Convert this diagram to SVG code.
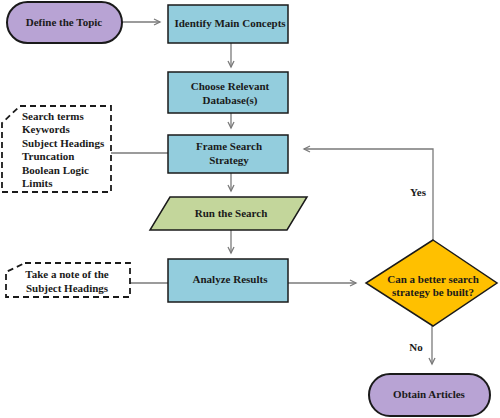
<svg xmlns="http://www.w3.org/2000/svg" width="500" height="418" viewBox="0 0 500 418">
<defs>
<marker id="arr" markerWidth="10" markerHeight="10" refX="8" refY="5" orient="auto" markerUnits="userSpaceOnUse">
<path d="M2,2 L8,5 L2,8" fill="none" stroke="#7a7a7a" stroke-width="1.3"/>
</marker>
</defs>
<style>
text{font-family:"Liberation Serif","Times New Roman",serif;font-weight:bold;font-size:11px;fill:#1a1a1a}
.c{text-anchor:middle}
.pill{fill:#b8a3d4;stroke:#1a1a1a;stroke-width:2}
.box{fill:#93cddd;stroke:#1a1a1a;stroke-width:1.5}
.para{fill:#c3d69b;stroke:#1a1a1a;stroke-width:1.5}
.dia{fill:#ffc000;stroke:#1a1a1a;stroke-width:1.5}
.note{fill:#fff;stroke:#1a1a1a;stroke-width:1.8;stroke-dasharray:6,4}
.ln{fill:none;stroke:#7a7a7a;stroke-width:1.3}
</style>
<rect width="500" height="418" fill="#fff"/>
<g id="connectors">
<line class="ln" x1="122" y1="22" x2="160" y2="22" marker-end="url(#arr)"/>
<line class="ln" x1="231" y1="43" x2="231" y2="67" marker-end="url(#arr)"/>
<line class="ln" x1="231" y1="113" x2="231" y2="128" marker-end="url(#arr)"/>
<line class="ln" x1="231" y1="173" x2="231" y2="191" marker-end="url(#arr)"/>
<line class="ln" x1="231" y1="230" x2="231" y2="253" marker-end="url(#arr)"/>
<line class="ln" x1="288" y1="283" x2="356" y2="283" marker-end="url(#arr)"/>
<polyline class="ln" points="433,240 433,149 304,149" marker-end="url(#arr)"/>
<line class="ln" x1="432" y1="326" x2="432" y2="364" marker-end="url(#arr)"/>
<line class="ln" x1="111" y1="153" x2="168" y2="153"/>
<line class="ln" x1="130" y1="283" x2="168" y2="283"/>
<text x="418" y="196" class="c">Yes</text>
<text x="416" y="351" class="c">No</text>
</g>
<g id="define">
<rect class="pill" x="7" y="2" width="115" height="41" rx="20.5"/>
<text x="64" y="26" class="c">Define the Topic</text>
</g>
<g id="identify">
<rect class="box" x="168" y="5" width="120" height="38"/>
<text x="230" y="27" class="c">Identify Main Concepts</text>
</g>
<g id="choose">
<rect class="box" x="168" y="72" width="120" height="41"/>
<text x="230" y="90" class="c">Choose Relevant</text>
<text x="230" y="104" class="c">Database(s)</text>
</g>
<g id="frame">
<rect class="box" x="168" y="135" width="120" height="38"/>
<text x="229" y="150" class="c">Frame Search</text>
<text x="229" y="164" class="c">Strategy</text>
</g>
<g id="run">
<polygon class="para" points="170,197 307,197 287,230 150,230"/>
<text x="231" y="217" class="c">Run the Search</text>
</g>
<g id="analyze">
<rect class="box" x="168" y="259" width="120" height="43"/>
<text x="230" y="283" class="c">Analyze Results</text>
</g>
<g id="decision">
<polygon class="dia" points="433,240 497,283 433,326 366,283"/>
<text x="433" y="283" class="c">Can a better search</text>
<text x="433" y="296" class="c">strategy be built?</text>
</g>
<g id="obtain">
<rect class="pill" x="369" y="374" width="121" height="42" rx="21"/>
<text x="429" y="398" class="c">Obtain Articles</text>
</g>
<g id="note-terms">
<path class="note" d="M20,106 L111,106 L111,192 L2,192 L2,123 Z"/>
<text x="22" y="120">Search terms</text>
<text x="22" y="133">Keywords</text>
<text x="22" y="147">Subject Headings</text>
<text x="22" y="160">Truncation</text>
<text x="22" y="174">Boolean Logic</text>
<text x="22" y="187">Limits</text>
</g>
<g id="note-headings">
<path class="note" d="M25,263 L130,263 L130,297 L6,297 L6,272 Z"/>
<text x="67" y="278" class="c">Take a note of the</text>
<text x="67" y="292" class="c">Subject Headings</text>
</g>
</svg>
